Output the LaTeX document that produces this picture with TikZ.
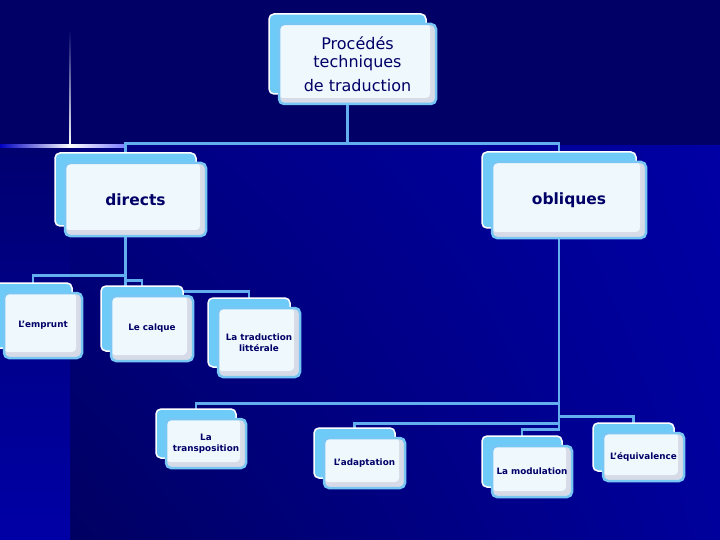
\documentclass[tikz,border=0pt]{standalone}
\usepackage{fontspec}
\setmainfont{DejaVu Sans}
\usetikzlibrary{shadows,shadings}
\definecolor{nuit}{HTML}{000066}
\definecolor{ciel}{HTML}{6ECBF8}
\definecolor{bordure}{HTML}{78C6F4}
\definecolor{face}{HTML}{EFF8FD}
\definecolor{gris}{HTML}{D6DBE7}
\definecolor{bleulien}{HTML}{62AEEE}
\definecolor{encre}{HTML}{000066}
\definecolor{fondhg}{HTML}{000080}
\definecolor{fondhd}{HTML}{0000A4}
\definecolor{fondbg}{HTML}{000062}
\definecolor{fondbd}{HTML}{00009C}
\definecolor{bandeh}{HTML}{000070}
\definecolor{bandeb}{HTML}{0000A6}
\pgfdeclarelayer{arriere}
\pgfdeclarelayer{liens}
\pgfsetlayers{arriere,liens,main}

\begin{document}
\begin{tikzpicture}[x=1pt, y=-1pt,
    boite/.style = {draw=bordure, line width=2.5pt, fill=gris, rounded corners=5pt,
      inner sep=0pt, text=encre, align=center,
      general shadow={shadow xshift=-10pt, shadow yshift=10pt, fill=ciel, draw=white, line width=1.5pt},
      path picture={\fill[face, rounded corners=4pt] (path picture bounding box.north west)
        rectangle ([xshift=-6pt,yshift=6pt]path picture bounding box.south east);}},
    grand/.style = {boite, font=\bfseries\fontsize{15.5}{18}\selectfont},
    petit/.style = {boite, font=\bfseries\fontsize{8.8}{11}\selectfont},
    lien/.style = {draw=bleulien, line width=2.8pt}]
    \useasboundingbox (0,0) rectangle (720,540);

    % fond
    \begin{pgfonlayer}{arriere}
    \fill[nuit] (0,0) rectangle (720,146);
    \shade[upper left=fondhg, upper right=fondhd, lower left=fondbg, lower right=fondbd]
      (70,146) rectangle (720,540);
    \shade[top color=bandeh, bottom color=bandeb] (0,146) rectangle (70,540);
    \shade[top color=nuit, bottom color=white] (69.2,30) rectangle (70.8,146);
    \shade[left color=blue!60!nuit, right color=white] (0,144.8) rectangle (70,147.2);
    \shade[left color=white, right color=blue!50!white] (70,144.8) rectangle (124,147.2);
    \end{pgfonlayer}

    \node[boite, minimum width=157pt, minimum height=80pt, font=\fontsize{16}{18}\selectfont]
      (titre) at (357.5,64) {Procédés\\techniques\\[6pt]de traduction};
    \node[grand, minimum width=141pt, minimum height=73pt] (directs) at (135.5,199.5) {directs};
    \node[grand, minimum width=154pt, minimum height=76pt] (obliques) at (569,200) {obliques};

    \node[petit, minimum width=78pt, minimum height=65pt] (emprunt) at (43,325.5) {L’emprunt};
    \node[petit, minimum width=82pt, minimum height=65pt] (calque) at (152,328.5) {Le calque};
    \node[petit, minimum width=82pt, minimum height=69pt] (traduction) at (259,342.5) {La traduction\\littérale};

    \node[petit, minimum width=80pt, minimum height=49pt] (transposition) at (206,443.5) {La\\transposition};
    \node[petit, minimum width=81pt, minimum height=50pt] (adaptation) at (364.5,463) {L’adaptation};
    \node[petit, minimum width=80pt, minimum height=51pt] (modulation) at (532,471.5) {La modulation};
    \node[petit, minimum width=81pt, minimum height=48pt] (equivalence) at (643.5,457) {L’équivalence};

    % liens
    \begin{pgfonlayer}{liens}
    \draw[lien] ([xshift=-10pt]titre.south) -- ++(0,38) -| ([xshift=-10pt]directs.north);
    \draw[lien] ([xshift=-10pt]titre.south) -- ++(0,38) -| ([xshift=-10pt]obliques.north);
    \draw[lien] ([xshift=-10pt]directs.south) -- ++(0,38) -| ([xshift=-10pt]emprunt.north);
    \draw[lien] ([xshift=-10pt]directs.south) -- ++(0,43) -| ([xshift=-10pt]calque.north);
    \draw[lien] ([xshift=-10pt]directs.south) -- ++(0,54) -| ([xshift=-10pt]traduction.north);
    \draw[lien] ([xshift=-10pt]obliques.south) -- ++(0,164) -| ([xshift=-10pt]transposition.north);
    \draw[lien] ([xshift=-10pt]obliques.south) -- ++(0,184) -| ([xshift=-10pt]adaptation.north);
    \draw[lien] ([xshift=-10pt]obliques.south) -- ++(0,190) -| ([xshift=-10pt]modulation.north);
    \draw[lien] ([xshift=-10pt]obliques.south) -- ++(0,177) -| ([xshift=-10pt]equivalence.north);
    \end{pgfonlayer}
\end{tikzpicture}
\end{document}
